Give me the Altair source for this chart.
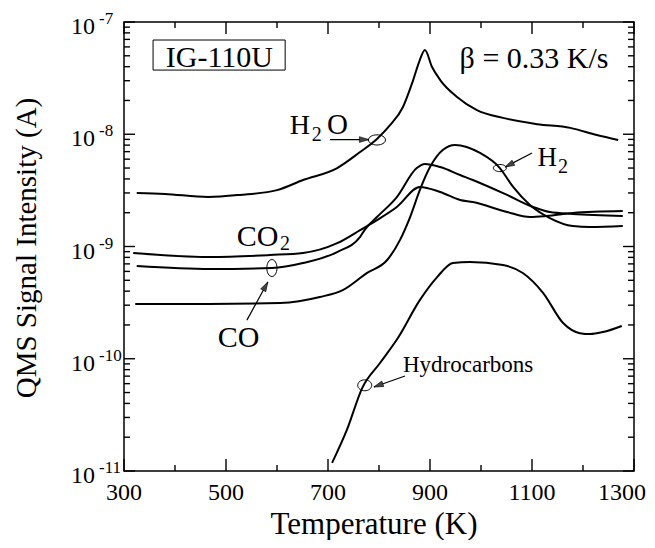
import altair as alt
import pandas as pd

FONT = "Liberation Serif"

# ---------------- data ----------------
temp_h2o = [325, 380, 465, 527, 600, 651, 718, 763, 796, 822, 847, 867, 880, 890,
            904, 920, 953, 992, 1043, 1110, 1175, 1227, 1269]
sig_h2o = [3.0e-9, 2.94e-9, 2.76e-9, 2.88e-9, 3.18e-9, 3.91e-9, 5.0e-9, 6.95e-9,
           9.08e-9, 1.21e-8, 1.75e-8, 3.04e-8, 4.58e-8, 5.63e-8, 3.97e-8, 3.04e-8,
           2.15e-8, 1.64e-8, 1.40e-8, 1.23e-8, 1.14e-8, 9.84e-9, 8.9e-9]

temp_h2 = [322, 465, 606, 684, 729, 776, 816, 841, 861, 880, 900, 925, 949, 998,
           1037, 1063, 1096, 1135, 1180, 1214, 1278]
sig_h2 = [3.07e-10, 3.07e-10, 3.14e-10, 3.55e-10, 4.09e-10, 5.8e-10, 7.58e-10,
          1.14e-9, 1.83e-9, 3.18e-9, 5.1e-9, 7.24e-9, 8.02e-9, 6.81e-9, 5.0e-9,
          3.39e-9, 2.34e-9, 1.79e-9, 1.52e-9, 1.49e-9, 1.52e-9]

temp_co2 = [318, 469, 586, 651, 718, 763, 796, 835, 880, 920, 959, 984, 1051,
            1096, 1129, 1180, 1278]
sig_co2 = [8.75e-10, 8.05e-10, 8.4e-10, 8.75e-10, 1.07e-9, 1.40e-9, 1.72e-9,
           2.25e-9, 3.39e-9, 3.06e-9, 2.6e-9, 2.49e-9, 2.03e-9, 1.83e-9, 1.87e-9,
           1.99e-9, 2.07e-9]

temp_co = [325, 469, 590, 651, 718, 763, 773, 796, 835, 874, 890, 920, 959, 984,
           1051, 1102, 1135, 1180, 1278]
sig_co = [6.7e-10, 6.3e-10, 6.43e-10, 7.13e-10, 8.93e-10, 1.22e-9, 1.43e-9,
          1.83e-9, 2.76e-9, 5.0e-9, 5.43e-9, 5.1e-9, 4.33e-9, 3.91e-9, 2.88e-9,
          2.25e-9, 2.03e-9, 1.95e-9, 1.87e-9]

temp_hc = [708, 737, 767, 802, 837, 880, 914, 945, 978, 1043, 1082, 1122, 1161,
           1194, 1214, 1239, 1276]
sig_hc = [1.18e-11, 2.32e-11, 5.48e-11, 9.16e-11, 1.53e-10, 3.33e-10, 5.34e-10,
          7.13e-10, 7.28e-10, 6.84e-10, 5.81e-10, 3.85e-10, 2.08e-10, 1.69e-10,
          1.66e-10, 1.73e-10, 1.96e-10]

series_names = ["H2O", "H2", "CO2", "CO", "Hydrocarbons"]

x_major = [300, 500, 700, 900, 1100, 1300]
x_labels = ["300", "500", "700", "900", "1100", "1300"]
x_minor = [400, 600, 800, 1000, 1200]
y_major = [1e-11, 1e-10, 1e-9, 1e-8, 1e-7]
y_exp = ["-11", "-10", "-9", "-8", "-7"]
y_minor = [m * d for d in [1e-11, 1e-10, 1e-9, 1e-8] for m in range(2, 10)]

# ---------------- chart ----------------
W, H = 510, 449
XMIN, XMAX, YMIN, YMAX = 300, 1300, 1e-11, 1e-7
xs = alt.Scale(domain=[XMIN, XMAX], nice=False, zero=False)
ys = alt.Scale(type="log", domain=[YMIN, YMAX], nice=False)
K_PER_PX = (XMAX - XMIN) / W
DEC_PER_PX = 4.0 / H


def X(f="T"):
    return alt.X(f"{f}:Q", scale=xs, axis=None)


def Y(f="I"):
    return alt.Y(f"{f}:Q", scale=ys, axis=None)


rows = []
for name, ts, vs in zip(series_names,
                        [temp_h2o, temp_h2, temp_co2, temp_co, temp_hc],
                        [sig_h2o, sig_h2, sig_co2, sig_co, sig_hc]):
    for t, v in zip(ts, vs):
        rows.append({"series": name, "T": t, "I": v})
df = pd.DataFrame(rows)

curves = alt.Chart(df).mark_line(color="black", strokeWidth=2,
                                 interpolate="monotone").encode(
    x=X(), y=Y(), detail="series:N")

layers = [curves]


# inward ticks on all four sides (tick length converted to data units)
def xticks(vals, length):
    f = 10 ** (length * DEC_PER_PX)
    n = len(vals)
    bot = pd.DataFrame({"T": vals, "I": [YMIN] * n, "I2": [YMIN * f] * n})
    top = pd.DataFrame({"T": vals, "I": [YMAX] * n, "I2": [YMAX / f] * n})
    return [alt.Chart(d).mark_rule(color="black", strokeWidth=1.4).encode(
        x=X(), y=Y(), y2="I2:Q") for d in (bot, top)]


def yticks(vals, length):
    dk = length * K_PER_PX
    n = len(vals)
    left = pd.DataFrame({"I": vals, "T": [XMIN] * n, "T2": [XMIN + dk] * n})
    right = pd.DataFrame({"I": vals, "T": [XMAX] * n, "T2": [XMAX - dk] * n})
    return [alt.Chart(d).mark_rule(color="black", strokeWidth=1.4).encode(
        y=Y(), x=X(), x2="T2:Q") for d in (left, right)]


layers += xticks(x_major, 12) + xticks(x_minor, 6)
layers += yticks(y_major, 11) + yticks(y_minor, 6)

# x tick labels and title
xlab = pd.DataFrame({"T": x_major[:-1], "lab": x_labels[:-1]})
layers.append(alt.Chart(xlab).mark_text(
    font=FONT, fontSize=24, align="center", baseline="alphabetic",
    color="black").encode(x=X(), y=alt.value(H + 29), text="lab:N"))
xlast = pd.DataFrame({"T": x_major[-1:], "lab": x_labels[-1:]})
layers.append(alt.Chart(xlast).mark_text(
    font=FONT, fontSize=24, align="right", baseline="alphabetic", dx=12,
    color="black").encode(x=X(), y=alt.value(H + 29), text="lab:N"))

one = pd.DataFrame({"a": [0]})
layers.append(alt.Chart(one).mark_text(
    text="Temperature (K)", font=FONT, fontSize=31, align="center",
    baseline="alphabetic", color="black").encode(
    x=alt.value(250), y=alt.value(H + 63)))

# y labels 10^n
ylab = pd.DataFrame({"I": y_major, "exp": y_exp})
layers.append(alt.Chart(ylab).mark_text(
    text="10", font=FONT, fontSize=24, align="right", baseline="alphabetic",
    dy=12, color="black").encode(y=Y(), x=alt.value(-29)))
layers.append(alt.Chart(ylab).mark_text(
    font=FONT, fontSize=17, align="left", baseline="alphabetic", dy=2,
    color="black").encode(y=Y(), x=alt.value(-25), text="exp:N"))

# y title
layers.append(alt.Chart(one).mark_text(
    text="QMS Signal Intensity (A)", font=FONT, fontSize=29, angle=270,
    align="center", baseline="middle", color="black").encode(
    x=alt.value(-97), y=alt.value(226)))


def txt(text, t, v, size, align="left"):
    d = pd.DataFrame({"T": [t], "I": [v]})
    return alt.Chart(d).mark_text(text=text, font=FONT, fontSize=size,
                                  align=align, baseline="alphabetic",
                                  color="black").encode(x=X(), y=Y())


# labels
layers += [
    txt("IG-110U", 487, 3.97e-8, 30, "center"),
    txt("β = 0.33 K/s", 1104, 3.89e-8, 30, "center"),
    txt("H", 625, 1.0e-8, 28), txt("2", 668, 8.7e-9, 20), txt("O", 698, 1.0e-8, 29),
    txt("H", 1111, 5.21e-9, 27), txt("2", 1151, 4.52e-9, 20),
    txt("CO", 521, 1.01e-9, 30), txt("2", 606, 9.3e-10, 20),
    txt("CO", 484, 1.27e-10, 30),
    txt("Hydrocarbons", 847, 7.62e-11, 23),
]

# box around IG-110U
box = pd.DataFrame({"T": [357], "T2": [616], "I": [6.91e-8], "I2": [3.73e-8]})
layers.append(alt.Chart(box).mark_rect(filled=False, stroke="black",
                                       strokeWidth=1).encode(
    x=X(), x2="T2:Q", y=Y(), y2="I2:Q"))


def ellipse_path(ry):
    k = 0.5523
    rx = 1.0
    return (f"M{rx},0 C{rx},{ry*k:.3f} {rx*k:.3f},{ry:.3f} 0,{ry:.3f} "
            f"C{-rx*k:.3f},{ry:.3f} {-rx},{ry*k:.3f} {-rx},0 "
            f"C{-rx},{-ry*k:.3f} {-rx*k:.3f},{-ry:.3f} 0,{-ry:.3f} "
            f"C{rx*k:.3f},{-ry:.3f} {rx},{-ry*k:.3f} {rx},0 Z")


def ellipse(t, v, width, ratio, angle=0):
    d = pd.DataFrame({"T": [t], "I": [v]})
    return alt.Chart(d).mark_point(shape=ellipse_path(ratio), size=width * width,
                                   filled=False, stroke="black", strokeWidth=1,
                                   opacity=1, angle=angle).encode(x=X(), y=Y())


layers += [
    ellipse(796, 8.9e-9, 17, 0.6),
    ellipse(1037, 5.0e-9, 13, 0.55),
    ellipse(590, 6.43e-10, 17, 0.6, 90),
    ellipse(772, 5.8e-11, 14, 0.78),
]

ARROW = "M0,0 L-0.55,1.8 L0.55,1.8 Z"


def arrow(t1, v1, t2, v2, angle):
    d = pd.DataFrame({"T": [t1], "I": [v1], "T2": [t2], "I2": [v2]})
    line = alt.Chart(d).mark_rule(color="black", strokeWidth=1.2).encode(
        x=X(), y=Y(), x2="T2:Q", y2="I2:Q")
    head = alt.Chart(d).mark_point(shape=ARROW, size=110, filled=True,
                                   fill="#444", stroke="black", strokeWidth=0.6,
                                   opacity=1, angle=angle).encode(
        x=X("T2"), y=Y("I2"))
    return [line, head]


layers += arrow(704, 8.97e-9, 780, 8.97e-9, 90)
layers += arrow(1100, 6.81e-9, 1047, 5.1e-9, 243)
layers += arrow(541, 2.21e-10, 582, 4.83e-10, 29)
layers += arrow(851, 7.02e-11, 790, 5.6e-11, 250)

chart = alt.layer(*layers).properties(
    width=W, height=H,
    autosize=alt.AutoSizeParams(type="none"),
    padding={"left": 116, "top": 14, "right": 13, "bottom": 69},
).configure_view(stroke="black", strokeWidth=1.5)

chart.save("out.html", embed_options={"renderer": "svg", "actions": False})
